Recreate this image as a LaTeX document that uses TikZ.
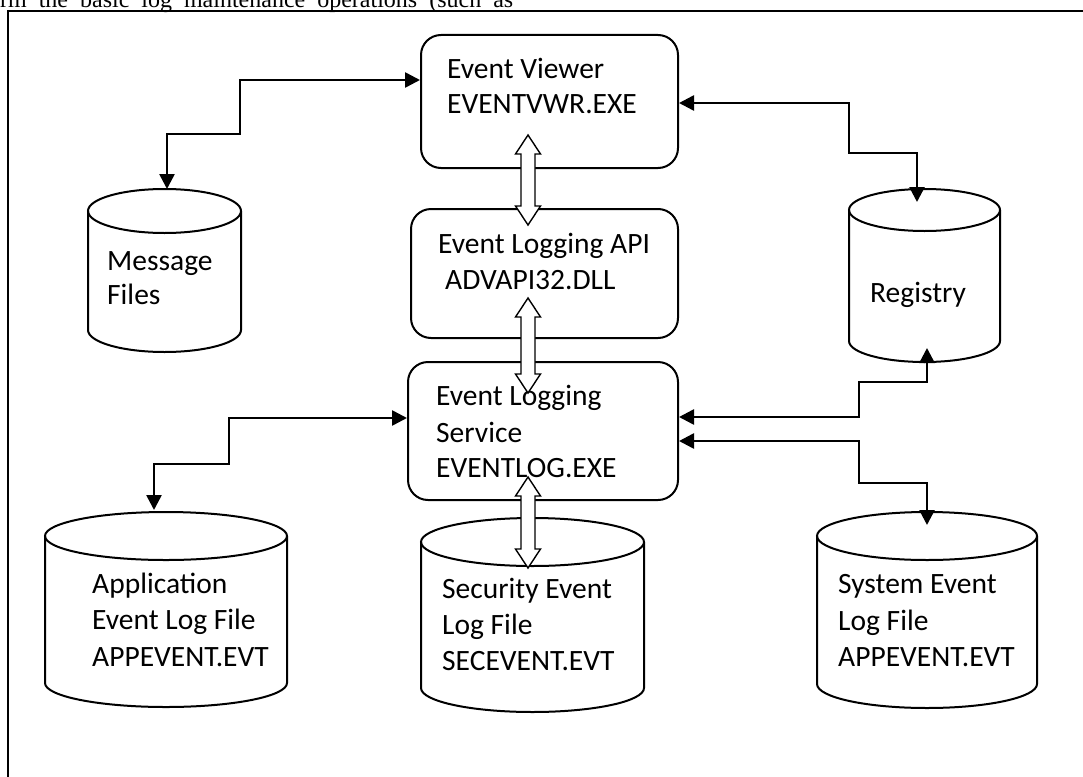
\documentclass[tikz,border=0pt]{standalone}
\usepackage{fontspec}
\setmainfont{Carlito}
\newfontfamily\serifhead{Liberation Serif}
\usetikzlibrary{arrows.meta}
\newcommand\drum[6]{% name, xl, xr, ytop, ybottom, ry
  \pgfmathsetmacro\drumcx{(#2+#3)/2}
  \pgfmathsetmacro\drumrx{(#3-#2)/2}
  \coordinate (#1) at (\drumcx,{(#4+#5)/2});
  \draw[drumline] (\drumcx,{#4+#6}) ellipse [x radius=\drumrx pt, y radius=#6 pt];
  \draw[drumline] (#2,{#4+#6}) -- (#2,{#5-#6})
     arc[start angle=180, end angle=360, x radius=\drumrx pt, y radius=#6 pt] -- (#3,{#4+#6});
}
\newcommand\hollowarrow[3]{% x, ytop, ybottom
  \draw[hollow] (#1,#2) -- (#1+12.5,#2+19) -- (#1+7,#2+19) -- (#1+7,#3-19) -- (#1+12.5,#3-19)
    -- (#1,#3) -- (#1-12.5,#3-19) -- (#1-7,#3-19) -- (#1-7,#2+19) -- (#1-12.5,#2+19) -- cycle;
}
\begin{document}
\begin{tikzpicture}[x=1pt,y=-1pt,
  box/.style={draw, line width=2pt, rounded corners=20pt, inner sep=0pt},
  txt/.style={anchor=base west, inner sep=0pt, font=\fontsize{29.5}{35}\selectfont},
  drumline/.style={line width=2pt},
  link/.style={line width=2.6pt, {Triangle[length=15pt,width=15pt]}-{Triangle[length=15pt,width=15pt]}},
  hollow/.style={draw, line width=1.4pt, fill=white, line join=miter}]
\useasboundingbox (0,0) rectangle (1083,776);
\clip (0,0) rectangle (1083,776);

% header text and frame
\node[anchor=base west, inner sep=0pt, font=\serifhead\fontsize{24}{28}\selectfont] (hdr) at (0,8)
  {\makebox[513pt][s]{rm the basic log maintenance operations (such as}};
\draw[line width=2.6pt] (8,800) -- (8,11) -- (1100,11);

% boxes
\node[box, minimum width=257pt, minimum height=133pt] (ev) at (549.5,101.5) {};
\node[box, minimum width=267pt, minimum height=129pt] (api) at (544.5,273.5) {};
\node[box, minimum width=270pt, minimum height=138pt] (svc) at (543,431) {};

% cylinders
\drum{msg}{88}{241}{189}{352}{22}
\drum{reg}{849}{1000}{189}{362}{21}
\drum{app}{45}{287}{512}{707}{24}
\drum{sec}{421}{644}{518}{712}{24}
\drum{sys}{817}{1037}{512}{708}{24}

% texts
\node[txt] (ev1) at (447,78) {Event Viewer};
\node[txt] (ev2) at (447,113) {EVENTVWR.EXE};
\node[txt] (api1) at (438,253) {Event Logging API};
\node[txt] (api2) at (445,289) {ADVAPI32.DLL};
\node[txt] (svc1) at (436,405) {Event Logging};
\node[txt] (svc2) at (436,442) {Service};
\node[txt] (svc3) at (436,477) {EVENTLOG.EXE};
\node[txt] (msg1) at (107,270) {Message};
\node[txt] (msg2) at (107,304) {Files};
\node[txt] (reg1) at (870,302) {Registry};
\node[txt] (app1) at (92,593) {Application};
\node[txt] (app2) at (92,629) {Event Log File};
\node[txt] (app3) at (92,666) {APPEVENT.EVT};
\node[txt] (sec1) at (442,598) {Security Event};
\node[txt] (sec2) at (442,634) {Log File};
\node[txt] (sec3) at (442,670) {SECEVENT.EVT};
\node[txt] (sys1) at (838,593) {System Event};
\node[txt] (sys2) at (838,630) {Log File};
\node[txt] (sys3) at (838,666) {APPEVENT.EVT};

% connectors
\coordinate (msg-in) at (167,189);
\coordinate (reg-in) at (917,202);
\coordinate (reg-out) at (927,348);
\coordinate (sys-in) at (927,525);
\coordinate (app-in) at (154,510);
\draw[link] (ev.west |- 0,80) -- (240,80) -- (240,134) -- (167,134) -- (msg-in);
\draw[link] (ev.east |- 0,103) -- (849,103) -- (849,153) -- (917,153) -- (reg-in);
\draw[link] (svc.east |- 0,417) -- (859,417) -- (859,382) -- (927,382) -- (reg-out);
\draw[link] (svc.east |- 0,441) -- (859,441) -- (859,483) -- (927,483) -- (sys-in);
\draw[link] (svc.west |- 0,418) -- (229,418) -- (229,464) -- (154,464) -- (app-in);

% hollow double arrows
\hollowarrow{528}{135}{225}
\hollowarrow{528}{298}{393}
\hollowarrow{528}{477}{568}
\end{tikzpicture}
\end{document}
